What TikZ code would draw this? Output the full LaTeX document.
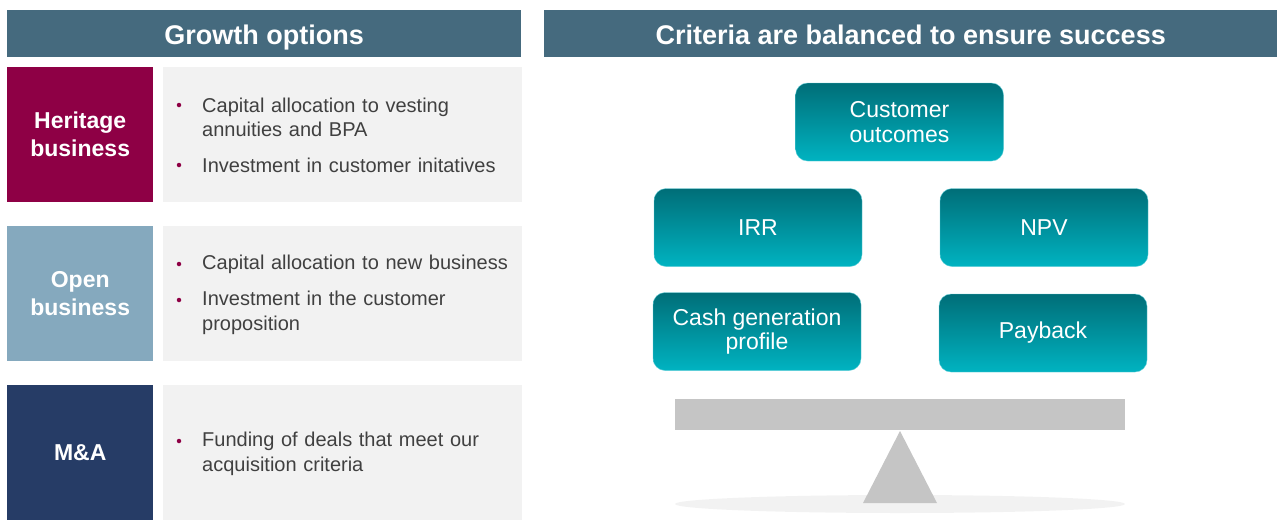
\documentclass[tikz,border=0pt]{standalone}
\usepackage{fontspec}
\setmainfont{Liberation Sans}
\usetikzlibrary{positioning}

\definecolor{barslate}{HTML}{456A7E}
\definecolor{heritage}{HTML}{8E0045}
\definecolor{openblue}{HTML}{85A9BE}
\definecolor{manavy}{HTML}{263C66}
\definecolor{panelgrey}{HTML}{F2F2F2}
\definecolor{textgrey}{HTML}{404040}
\definecolor{tealtop}{HTML}{006E78}
\definecolor{tealbot}{HTML}{00B3C1}
\definecolor{beamgrey}{HTML}{C5C5C5}

\begin{document}
\begin{tikzpicture}[
    x=1pt, y=-1pt,
    titlebar/.style={fill=barslate, text=white, font=\fontsize{27}{30}\selectfont\bfseries, minimum height=47pt, text height=23pt, text depth=2pt, inner sep=0pt, anchor=north west},
    optlabel/.style={text=white, font=\fontsize{23}{28}\selectfont\bfseries, align=center, minimum width=146pt, minimum height=135pt, inner sep=0pt, anchor=north west},
    panel/.style={fill=panelgrey, minimum width=359pt, minimum height=135pt, inner sep=0pt, right=9pt of #1},
    optitem/.style={anchor=west, inner sep=0pt, text width=318pt, align=left, text=textgrey, font=\fontsize{20}{24.5}\selectfont},
    dot/.style={circle, fill=heritage, inner sep=0pt, minimum size=4.5pt},
    crit/.style={rounded corners=12pt, top color=tealtop, bottom color=tealbot, draw=tealbot!60!white, line width=0.4pt, text=white, font=\fontsize{23}{24.5}\selectfont, align=center, minimum width=208pt, minimum height=78pt, inner sep=0pt}
]
\useasboundingbox (0,0) rectangle (1283,523);

% headings
\node[titlebar, minimum width=514pt] (growth) at (7,10) {Growth options};
\node[titlebar, minimum width=733pt] (criteria) at (544,10) {Criteria are balanced to ensure success};

% growth options
\node[optlabel, fill=heritage] (herit) at (7,67) {Heritage\\business};
\node[panel=herit] (heritp) {};
\node[optlabel, fill=openblue] (open) at (7,226) {Open\\business};
\node[panel=open] (openp) {};
\node[optlabel, fill=manavy] (ma) at (7,385) {M\&A};
\node[panel=ma] (map) {};

\node[dot] (d1) at (179,105) {};
\node[optitem] (i1) at (202,117.5) {Capital allocation to vesting\\annuities and BPA};
\node[dot] (d2) at (179,165) {};
\node[optitem] (i2) at (202,165.5) {Investment in customer initatives};
\node[dot] (d3) at (179,264) {};
\node[optitem] (i3) at (202,264.5) {Capital allocation to new business};
\node[dot] (d4) at (179,300) {};
\node[optitem] (i4) at (202,313) {Investment in the customer\\proposition};
\node[dot] (d5) at (179,441) {};
\node[optitem] (i5) at (202,454) {Funding of deals that meet our\\acquisition criteria};

% criteria
\node[crit] (cust) at (899.5,122) {Customer\\outcomes};
\node[crit] (irr) at (758,227.5) {IRR};
\node[crit] (npv) at (1044,227.5) {NPV};
\node[crit] (cash) at (757,331.5) {Cash generation\\profile};
\node[crit] (pay) at (1043,333) {Payback};

% seesaw
\fill[panelgrey] (900,504) ellipse (225pt and 9pt);
\fill[beamgrey] (675,399) rectangle (1125,430);
\fill[beamgrey] (900,431) -- (937,503) -- (863,503) -- cycle;
\end{tikzpicture}
\end{document}
